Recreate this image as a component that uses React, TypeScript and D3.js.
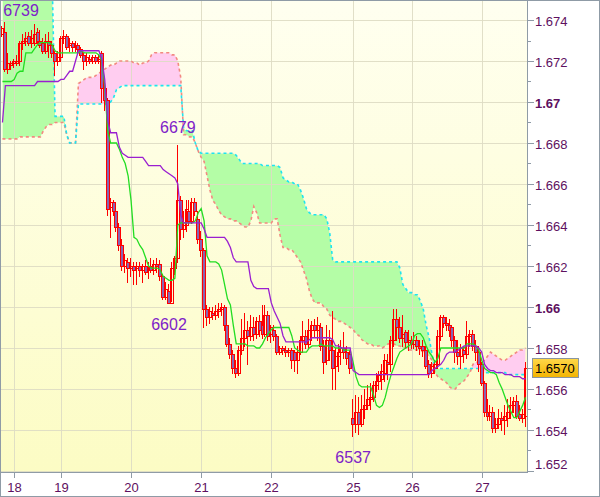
import React from 'react';
import * as d3 from 'd3';

// ---------- DATA (hourly candles) ----------
const openP = [
1.6733,1.6734,1.6716,1.6718,1.6719,1.6719,1.6720,1.6729,1.6730,1.6732,
1.6729,1.6729,1.6734,1.6730,1.6729,1.6725,1.6730,1.6728,1.6724,1.6720,
1.6722,1.6731,1.6732,1.6728,1.6729,1.6727,1.6728,1.6726,1.6723,1.6720,
1.6721,1.6720,1.6722,1.6720,1.6724,1.6707,1.6701,1.6649,1.6651,1.6647,
1.6639,1.6630,1.6620,1.6622,1.6619,1.6620,1.6619,1.6620,1.6618,1.6620,
1.6618,1.6620,1.6618,1.6621,1.6621,1.6615,1.6605,1.6608,1.6602,1.6619,
1.6624,1.6652,1.6638,1.6640,1.6647,1.6642,1.6651,1.6643,1.6633,1.6628,
1.6599,1.6595,1.6597,1.6596,1.6598,1.6599,1.6600,1.6591,1.6582,1.6577,
1.6570,1.6568,1.6579,1.6585,1.6589,1.6586,1.6590,1.6587,1.6593,1.6591,
1.6587,1.6596,1.6587,1.6589,1.6586,1.6578,1.6580,1.6579,1.6578,1.6579,
1.6578,1.6574,1.6578,1.6584,1.6586,1.6582,1.6589,1.6591,1.6589,1.6590,
1.6581,1.6574,1.6584,1.6579,1.6571,1.6576,1.6578,1.6580,1.6578,1.6577,
1.6546,1.6543,1.6549,1.6543,1.6550,1.6552,1.6555,1.6556,1.6562,1.6564,
1.6565,1.6568,1.6573,1.6572,1.6584,1.6594,1.6590,1.6585,1.6588,1.6583,
1.6584,1.6582,1.6584,1.6581,1.6581,1.6579,1.6572,1.6568,1.6570,1.6572,
1.6586,1.6595,1.6592,1.6591,1.6590,1.6584,1.6578,1.6576,1.6579,1.6577,
1.6586,1.6587,1.6581,1.6578,1.6572,1.6563,1.6549,1.6547,1.6549,1.6541,
1.6543,1.6546,1.6545,1.6546,1.6549,1.6552,1.6554,1.6548,1.6546,1.6547];

const highP = [
1.6737,1.6739,1.6724,1.6720,1.6721,1.6723,1.6730,1.6733,1.6734,1.6734,
1.6735,1.6738,1.6736,1.6735,1.6731,1.6733,1.6734,1.6730,1.6725,1.6725,
1.6732,1.6735,1.6733,1.6731,1.6730,1.6730,1.6729,1.6727,1.6724,1.6724,
1.6723,1.6723,1.6723,1.6723,1.6725,1.6709,1.6702,1.6653,1.6652,1.6650,
1.6641,1.6633,1.6626,1.6624,1.6624,1.6622,1.6622,1.6622,1.6621,1.6623,
1.6622,1.6624,1.6623,1.6624,1.6623,1.6616,1.6612,1.6611,1.6622,1.6625,
1.6679,1.6654,1.6647,1.6652,1.6652,1.6653,1.6653,1.6647,1.6637,1.6629,
1.6601,1.6600,1.6600,1.6601,1.6602,1.6602,1.6601,1.6592,1.6585,1.6579,
1.6574,1.6581,1.6594,1.6597,1.6593,1.6596,1.6595,1.6595,1.6596,1.6601,
1.6601,1.6598,1.6591,1.6591,1.6587,1.6581,1.6581,1.6581,1.6580,1.6580,
1.6579,1.6581,1.6586,1.6593,1.6589,1.6594,1.6593,1.6594,1.6595,1.6592,
1.6584,1.6591,1.6589,1.6598,1.6580,1.6582,1.6584,1.6588,1.6581,1.6579,
1.6555,1.6557,1.6556,1.6557,1.6560,1.6562,1.6563,1.6564,1.6568,1.6569,
1.6572,1.6577,1.6577,1.6586,1.6599,1.6599,1.6595,1.6596,1.6589,1.6589,
1.6586,1.6588,1.6586,1.6584,1.6584,1.6581,1.6574,1.6573,1.6574,1.6589,
1.6596,1.6596,1.6595,1.6594,1.6591,1.6586,1.6584,1.6582,1.6581,1.6593,
1.6589,1.6589,1.6584,1.6581,1.6573,1.6564,1.6555,1.6552,1.6551,1.6546,
1.6550,1.6549,1.6552,1.6555,1.6556,1.6556,1.6557,1.6552,1.6550,1.6573];

const lowP = [
1.6732,1.6715,1.6714,1.6716,1.6717,1.6718,1.6718,1.6726,1.6728,1.6728,
1.6727,1.6728,1.6729,1.6727,1.6724,1.6724,1.6722,1.6722,1.6713,1.6718,
1.6720,1.6729,1.6726,1.6725,1.6725,1.6725,1.6724,1.6722,1.6716,1.6718,
1.6719,1.6719,1.6719,1.6719,1.6700,1.6696,1.6645,1.6634,1.6645,1.6637,
1.6628,1.6618,1.6617,1.6612,1.6615,1.6611,1.6611,1.6615,1.6612,1.6616,
1.6614,1.6617,1.6616,1.6617,1.6613,1.6604,1.6604,1.6602,1.6603,1.6616,
1.6622,1.6633,1.6634,1.6637,1.6640,1.6641,1.6645,1.6631,1.6625,1.6590,
1.6591,1.6592,1.6594,1.6594,1.6595,1.6596,1.6589,1.6581,1.6575,1.6568,
1.6566,1.6567,1.6577,1.6581,1.6572,1.6584,1.6584,1.6585,1.6586,1.6585,
1.6586,1.6584,1.6583,1.6584,1.6577,1.6577,1.6577,1.6576,1.6576,1.6570,
1.6569,1.6568,1.6577,1.6581,1.6580,1.6580,1.6584,1.6586,1.6584,1.6579,
1.6568,1.6572,1.6574,1.6560,1.6560,1.6569,1.6572,1.6575,1.6572,1.6568,
1.6537,1.6539,1.6538,1.6542,1.6546,1.6550,1.6550,1.6554,1.6559,1.6560,
1.6560,1.6564,1.6565,1.6569,1.6581,1.6584,1.6583,1.6581,1.6580,1.6579,
1.6580,1.6580,1.6579,1.6577,1.6576,1.6570,1.6566,1.6566,1.6568,1.6570,
1.6584,1.6590,1.6589,1.6586,1.6581,1.6573,1.6572,1.6570,1.6573,1.6575,
1.6581,1.6579,1.6574,1.6569,1.6562,1.6547,1.6545,1.6545,1.6539,1.6539,
1.6541,1.6540,1.6538,1.6542,1.6546,1.6549,1.6546,1.6545,1.6544,1.6542];

const closeP = [
1.6736,1.6716,1.6719,1.6719,1.6720,1.6720,1.6729,1.6730,1.6731,1.6729,
1.6731,1.6733,1.6730,1.6728,1.6725,1.6730,1.6728,1.6724,1.6720,1.6722,
1.6731,1.6732,1.6727,1.6729,1.6727,1.6728,1.6726,1.6723,1.6720,1.6722,
1.6720,1.6722,1.6720,1.6721,1.6707,1.6701,1.6648,1.6651,1.6647,1.6639,
1.6630,1.6620,1.6623,1.6619,1.6620,1.6618,1.6620,1.6618,1.6620,1.6617,
1.6620,1.6618,1.6621,1.6620,1.6615,1.6605,1.6609,1.6602,1.6619,1.6624,
1.6652,1.6638,1.6640,1.6648,1.6642,1.6651,1.6647,1.6633,1.6628,1.6599,
1.6595,1.6598,1.6596,1.6598,1.6599,1.6600,1.6591,1.6582,1.6577,1.6570,
1.6568,1.6579,1.6585,1.6589,1.6586,1.6590,1.6587,1.6593,1.6589,1.6587,
1.6596,1.6586,1.6590,1.6586,1.6578,1.6580,1.6579,1.6578,1.6579,1.6574,
1.6574,1.6578,1.6584,1.6586,1.6582,1.6589,1.6591,1.6589,1.6591,1.6581,
1.6573,1.6584,1.6579,1.6570,1.6576,1.6578,1.6580,1.6578,1.6575,1.6570,
1.6543,1.6549,1.6543,1.6550,1.6552,1.6555,1.6556,1.6562,1.6564,1.6567,
1.6569,1.6574,1.6572,1.6584,1.6594,1.6590,1.6585,1.6587,1.6583,1.6584,
1.6582,1.6584,1.6581,1.6580,1.6579,1.6571,1.6568,1.6571,1.6572,1.6586,
1.6595,1.6592,1.6591,1.6589,1.6584,1.6578,1.6576,1.6580,1.6577,1.6586,
1.6587,1.6581,1.6578,1.6572,1.6563,1.6549,1.6547,1.6549,1.6541,1.6543,
1.6546,1.6545,1.6547,1.6549,1.6552,1.6554,1.6547,1.6546,1.6548,1.6570];

// Tenkan-sen (green)
const tenkan = [
1.6710,1.6710,1.6710,1.6710,1.6711,1.6714,1.6715,1.6715,1.6724,1.6724,
1.6724,1.6726,1.6728,1.6729,1.6729,1.6729,1.6729,1.6728,1.6725,1.6724,
1.6724,1.6724,1.6724,1.6724,1.6724,1.6724,1.6724,1.6725,1.6724,1.6724,
1.6724,1.6724,1.6724,1.6723,1.6720,1.6708,1.6686,1.6680,1.6680,1.6680,
1.6677,1.6673,1.6670,1.6664,1.6652,1.6634,1.6633,1.6630,1.6628,1.6624,
1.6620,1.6619,1.6619,1.6619,1.6618,1.6615,1.6614,1.6613,1.6613,1.6614,
1.6640,1.6641,1.6641,1.6641,1.6641,1.6641,1.6642,1.6646,1.6648,1.6642,
1.6625,1.6622,1.6622,1.6622,1.6621,1.6618,1.6611,1.6604,1.6601,1.6591,
1.6582,1.6582,1.6582,1.6582,1.6581,1.6581,1.6581,1.6580,1.6580,1.6582,
1.6585,1.6587,1.6589,1.6590,1.6590,1.6590,1.6590,1.6590,1.6590,1.6586,
1.6580,1.6579,1.6578,1.6578,1.6578,1.6580,1.6581,1.6581,1.6581,1.6582,
1.6581,1.6581,1.6581,1.6581,1.6580,1.6580,1.6580,1.6579,1.6579,1.6579,
1.6573,1.6566,1.6562,1.6561,1.6561,1.6561,1.6561,1.6557,1.6552,1.6551,
1.6552,1.6556,1.6562,1.6567,1.6571,1.6575,1.6578,1.6579,1.6580,1.6581,
1.6582,1.6586,1.6587,1.6587,1.6585,1.6581,1.6578,1.6576,1.6573,1.6575,
1.6580,1.6580,1.6580,1.6580,1.6580,1.6580,1.6580,1.6580,1.6580,1.6582,
1.6582,1.6582,1.6581,1.6579,1.6574,1.6570,1.6569,1.6568,1.6568,1.6567,
1.6563,1.6560,1.6556,1.6552,1.6549,1.6546,1.6546,1.6549,1.6552,1.6556];

// Kijun-sen (purple)
const kijun = [
1.6690,1.6708,1.6708,1.6708,1.6708,1.6708,1.6708,1.6708,1.6708,1.6708,
1.6708,1.6708,1.6710,1.6710,1.6710,1.6710,1.6710,1.6710,1.6710,1.6710,
1.6711,1.6711,1.6713,1.6715,1.6715,1.6720,1.6725,1.6725,1.6725,1.6725,
1.6725,1.6725,1.6725,1.6725,1.6721,1.6711,1.6691,1.6685,1.6685,1.6685,
1.6678,1.6675,1.6674,1.6673,1.6673,1.6673,1.6673,1.6673,1.6673,1.6671,
1.6669,1.6669,1.6669,1.6669,1.6669,1.6667,1.6666,1.6665,1.6664,1.6663,
1.6660,1.6645,1.6641,1.6641,1.6641,1.6641,1.6641,1.6641,1.6641,1.6638,
1.6634,1.6634,1.6634,1.6634,1.6634,1.6634,1.6634,1.6632,1.6629,1.6624,
1.6622,1.6622,1.6622,1.6622,1.6622,1.6613,1.6610,1.6609,1.6609,1.6609,
1.6609,1.6609,1.6602,1.6598,1.6595,1.6592,1.6586,1.6583,1.6583,1.6583,
1.6583,1.6583,1.6583,1.6583,1.6583,1.6584,1.6585,1.6585,1.6585,1.6585,
1.6585,1.6585,1.6585,1.6584,1.6581,1.6581,1.6580,1.6580,1.6580,1.6580,
1.6569,1.6568,1.6567,1.6567,1.6567,1.6567,1.6567,1.6567,1.6567,1.6567,
1.6567,1.6567,1.6567,1.6567,1.6567,1.6567,1.6567,1.6567,1.6567,1.6567,
1.6567,1.6567,1.6567,1.6567,1.6567,1.6567,1.6567,1.6569,1.6570,1.6571,
1.6572,1.6574,1.6577,1.6578,1.6578,1.6578,1.6579,1.6580,1.6581,1.6581,
1.6581,1.6581,1.6581,1.6580,1.6578,1.6572,1.6570,1.6569,1.6569,1.6568,
1.6568,1.6568,1.6567,1.6567,1.6567,1.6566,1.6566,1.6566,1.6565,1.6565];

// Senkou span A (salmon, dashed)
const spanA = [
1.6682,1.6682,1.6682,1.6682,1.6682,1.6682,1.6683,1.6683,1.6683,1.6683,
1.6683,1.6683,1.6683,1.6683,1.6686,1.6688,1.6689,1.6689,1.6690,1.6690,
1.6690,1.6690,1.6684,1.6680,1.6680,1.6680,1.6709,1.6710,1.6711,1.6712,
1.6712,1.6712,1.6713,1.6714,1.6715,1.6716,1.6717,1.6718,1.6718,1.6719,
1.6720,1.6720,1.6720,1.6720,1.6720,1.6719,1.6719,1.6718,1.6719,1.6719,
1.6720,1.6723,1.6724,1.6724,1.6724,1.6724,1.6724,1.6724,1.6723,1.6723,
1.6720,1.6712,1.6684,1.6684,1.6683,1.6683,1.6680,1.6676,1.6673,1.6671,
1.6664,1.6657,1.6652,1.6650,1.6647,1.6645,1.6644,1.6643,1.6643,1.6642,
1.6642,1.6641,1.6640,1.6639,1.6639,1.6642,1.6649,1.6646,1.6641,1.6641,
1.6641,1.6641,1.6641,1.6643,1.6643,1.6635,1.6629,1.6629,1.6628,1.6628,
1.6626,1.6624,1.6622,1.6618,1.6614,1.6608,1.6604,1.6602,1.6602,1.6602,
1.6600,1.6599,1.6596,1.6595,1.6594,1.6593,1.6593,1.6592,1.6591,1.6590,
1.6589,1.6587,1.6586,1.6584,1.6583,1.6582,1.6582,1.6581,1.6581,1.6581,
1.6580,1.6581,1.6582,1.6582,1.6582,1.6581,1.6581,1.6580,1.6580,1.6579,
1.6579,1.6579,1.6579,1.6579,1.6578,1.6577,1.6576,1.6574,1.6568,1.6566,
1.6565,1.6564,1.6563,1.6561,1.6560,1.6560,1.6562,1.6563,1.6564,1.6566,
1.6568,1.6572,1.6573,1.6573,1.6573,1.6574,1.6576,1.6578,1.6577,1.6576,
1.6575,1.6574,1.6574,1.6575,1.6576,1.6577,1.6578,1.6579,1.6579,1.6580];

// Senkou span B (cyan, dashed)
const spanB = [
1.6760,1.6760,1.6760,1.6760,1.6760,1.6760,1.6760,1.6760,1.6760,1.6760,
1.6760,1.6760,1.6760,1.6760,1.6760,1.6760,1.6760,1.6760,1.6693,1.6693,
1.6693,1.6693,1.6684,1.6680,1.6680,1.6680,1.6699,1.6699,1.6699,1.6699,
1.6699,1.6699,1.6699,1.6699,1.6699,1.6699,1.6699,1.6700,1.6702,1.6706,
1.6707,1.6708,1.6708,1.6708,1.6708,1.6708,1.6708,1.6708,1.6708,1.6708,
1.6708,1.6708,1.6708,1.6708,1.6708,1.6708,1.6708,1.6708,1.6708,1.6708,
1.6708,1.6708,1.6687,1.6686,1.6686,1.6686,1.6680,1.6676,1.6675,1.6675,
1.6675,1.6675,1.6675,1.6675,1.6675,1.6675,1.6675,1.6675,1.6675,1.6675,
1.6674,1.6672,1.6670,1.6670,1.6670,1.6670,1.6670,1.6670,1.6670,1.6669,
1.6669,1.6669,1.6669,1.6669,1.6669,1.6668,1.6663,1.6662,1.6661,1.6661,
1.6660,1.6660,1.6657,1.6653,1.6648,1.6646,1.6645,1.6645,1.6645,1.6645,
1.6645,1.6643,1.6636,1.6623,1.6622,1.6622,1.6622,1.6622,1.6622,1.6622,
1.6622,1.6622,1.6622,1.6622,1.6622,1.6622,1.6622,1.6622,1.6622,1.6622,
1.6622,1.6622,1.6622,1.6622,1.6622,1.6622,1.6619,1.6611,1.6609,1.6607,
1.6607,1.6606,1.6606,1.6603,1.6599,1.6591,1.6585,1.6577,1.6570,1.6570,
1.6570,1.6570,1.6570,1.6570,1.6570,1.6570,1.6570,1.6570,1.6570,1.6570,
1.6570,1.6570,1.6570,1.6570,1.6570,1.6568,1.6568,1.6568,1.6568,1.6568,
1.6568,1.6568,1.6568,1.6567,1.6567,1.6567,1.6567,1.6567,1.6567,1.6567];

const dayBars = [4, 20, 44, 68, 92, 120, 140, 164];
const dayLabels = ['18', '19', '20', '21', '22', '25', '26', '27'];
const priceTicks = [1.652, 1.654, 1.656, 1.658, 1.66, 1.662, 1.664, 1.666, 1.668, 1.67, 1.672, 1.674];
const minorTicks = [1.653, 1.655, 1.657, 1.659, 1.661, 1.663, 1.665, 1.667, 1.669, 1.671, 1.673];
const pivotBars = [1, 60, 57, 120];
const pivotKinds = ['high', 'high', 'low', 'low'];
const lastPrice = 1.657;

export default function App() {
  const W = 600, H = 497;
  const L = 1, R = 527, T = 1, B = 472;
  const N = closeP.length;
  const x = d3.scaleLinear().domain([-0.5, N - 0.5]).range([L, R]);
  const y = d3.scaleLinear().domain([1.65195, 1.674927]).range([B, T]);
  const idx = d3.range(N);

  const lineGen = (arr: number[]) =>
    d3.line<number>().x(i => x(i)).y(i => y(arr[i]))(idx) || '';
  const between = d3.area<number>().x(i => x(i)).y0(i => y(spanA[i])).y1(i => y(spanB[i]))(idx) || '';
  const aboveB = d3.area<number>().x(i => x(i)).y0(() => T - 50).y1(i => y(spanB[i]))(idx) || '';
  const belowB = d3.area<number>().x(i => x(i)).y0(() => B + 50).y1(i => y(spanB[i]))(idx) || '';

  const font = '"Liberation Sans", Arial, sans-serif';
  const axisColor = '#8f9ba6';
  const gridColor = '#dedcc4';

  return (
    <svg width={W} height={H} style={{ display: 'block', position: 'absolute', left: 0, top: 0 }}>
      <defs>
        <linearGradient id="bg" x1="0" y1="0" x2="0" y2="1">
          <stop offset="0" stopColor="#fffff0" />
          <stop offset="1" stopColor="#fcfcc4" />
        </linearGradient>
        <linearGradient id="pbox" x1="0" y1="0" x2="0" y2="1">
          <stop offset="0" stopColor="#ffd84a" />
          <stop offset="1" stopColor="#f3b400" />
        </linearGradient>
        <clipPath id="plot"><rect x={L} y={T} width={R - L} height={B - T} /></clipPath>
        <clipPath id="cAbove"><path d={aboveB} /></clipPath>
        <clipPath id="cBelow"><path d={belowB} /></clipPath>
      </defs>
      <rect x={0} y={0} width={W} height={H} fill="#ffffff" />
      <rect x={L} y={T} width={R - L} height={B - T} fill="url(#bg)" />

      <g clipPath="url(#plot)">
        {/* cloud */}
        <g clipPath="url(#cBelow)"><path d={between} fill="#b4fda6" /></g>
        <g clipPath="url(#cAbove)"><path d={between} fill="#ffcdf0" /></g>

        {/* grid */}
        {priceTicks.map(p => (
          <line key={'gy' + p} x1={L} x2={R} y1={Math.round(y(p)) + 0.5} y2={Math.round(y(p)) + 0.5}
            stroke={gridColor} strokeWidth={1} opacity={0.9} />
        ))}
        {dayBars.map(b => (
          <line key={'gx' + b} x1={Math.round(x(b)) + 0.5} x2={Math.round(x(b)) + 0.5} y1={T} y2={B}
            stroke={gridColor} strokeWidth={1} opacity={0.9} />
        ))}

        {/* senkou spans */}
        <path d={lineGen(spanA)} fill="none" stroke="#f28a80" strokeWidth={1.6} strokeDasharray="3,3" />
        <path d={lineGen(spanB)} fill="none" stroke="#1ee4f0" strokeWidth={1.6} strokeDasharray="3,3" />

        {/* candles */}
        <g shapeRendering="crispEdges">
          {idx.map(i => {
            const cx = Math.round(x(i));
            const o = openP[i], c = closeP[i];
            const top = Math.round(y(Math.max(o, c)));
            const bot = Math.round(y(Math.min(o, c)));
            const bear = c < o;
            return (
              <g key={'c' + i}>
                <line x1={cx - 0.5} x2={cx - 0.5} y1={Math.round(y(highP[i]))} y2={Math.round(y(lowP[i])) + 1}
                  stroke="#ff0000" strokeWidth={1} />
                <rect x={cx - 1.5} y={top + 0.5} width={3} height={Math.max(bot - top, 1)}
                  fill={bear ? '#8a64b0' : 'none'} stroke="#ff0000" strokeWidth={1} />
              </g>
            );
          })}
        </g>

        {/* tenkan / kijun */}
        <path d={lineGen(tenkan)} fill="none" stroke="#22dd22" strokeWidth={1.3} />
        <path d={lineGen(kijun)} fill="none" stroke="#9a1fd0" strokeWidth={1.3} />
      </g>

      {/* pivot labels */}
      {pivotBars.map((b, k) => {
        const isHigh = pivotKinds[k] === 'high';
        const p = isHigh ? highP[b] : lowP[b];
        const txt = String(Math.round(p * 10000) % 10000);
        const cx = Math.max(x(b), 21);
        const by = isHigh ? Math.max(y(p) - 12, 16) : y(p) + 27;
        return (
          <text key={'pv' + k} x={cx} y={by} textAnchor="middle" fontFamily={font} fontSize={16}
            fill="#7e22c8">{txt}</text>
        );
      })}

      {/* axes lines */}
      <line x1={R + 0.5} x2={R + 0.5} y1={0} y2={B + 1} stroke={axisColor} strokeWidth={1} />
      <line x1={0} x2={R + 1} y1={B + 0.5} y2={B + 0.5} stroke={axisColor} strokeWidth={1} />
      <line x1={0.5} x2={0.5} y1={0} y2={B + 1} stroke={axisColor} strokeWidth={1} />

      {/* right axis ticks & labels */}
      {minorTicks.map(p => (
        <line key={'mt' + p} x1={R + 1} x2={R + 4} y1={Math.round(y(p)) + 0.5} y2={Math.round(y(p)) + 0.5}
          stroke={axisColor} strokeWidth={1} />
      ))}
      {priceTicks.map(p => {
        const yy = Math.round(y(p)) + 0.5;
        const bold = Math.abs(p * 100 - Math.round(p * 100)) < 1e-6;
        const label = bold ? d3.format('.2f')(p) : d3.format('.3f')(p);
        const ty = Math.min(yy + 5, B - 3);
        return (
          <g key={'pt' + p}>
            <line x1={R + 1} x2={R + 7} y1={yy} y2={yy} stroke={axisColor} strokeWidth={1} />
            <text x={R + 8} y={ty} fontFamily={font} fontSize={13} fontWeight={bold ? 'bold' : 'normal'}
              fill="#5e1060">{label}</text>
          </g>
        );
      })}

      {/* last price box */}
      {(() => {
        const yy = y(lastPrice);
        return (
          <g>
            <line x1={R + 1} x2={R + 6} y1={Math.round(yy) + 0.5} y2={Math.round(yy) + 0.5} stroke={axisColor} />
            <rect x={532.5} y={Math.round(yy) - 9.5} width={46} height={19} fill="url(#pbox)" stroke="#8a96a0" strokeWidth={1} />
            <text x={535} y={Math.round(yy) + 5} fontFamily={font} fontSize={13} fill="#000000">{d3.format('.4f')(lastPrice)}</text>
          </g>
        );
      })()}

      {/* bottom axis */}
      {dayBars.map((b, k) => {
        const xx = Math.round(x(b)) + 0.5;
        return (
          <g key={'dt' + b}>
            <line x1={xx} x2={xx} y1={B + 1} y2={B + 6} stroke={axisColor} strokeWidth={1} />
            <text x={xx} y={B + 20} textAnchor="middle" fontFamily={font} fontSize={13} fill="#5e1060">{dayLabels[k]}</text>
          </g>
        );
      })}

      {/* outer border */}
      <rect x={0.5} y={0.5} width={W - 1} height={H - 1} fill="none" stroke={axisColor} strokeWidth={1} />
    </svg>
  );
}
